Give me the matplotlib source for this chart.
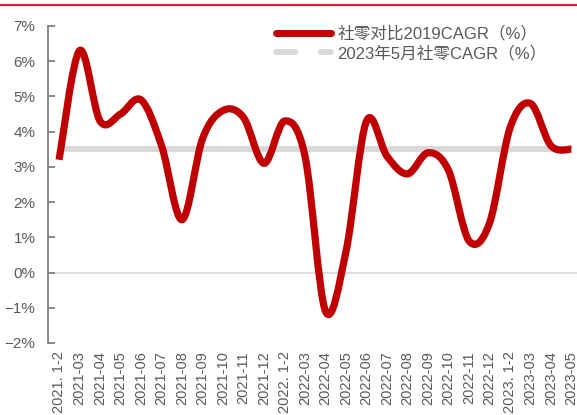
import matplotlib
matplotlib.use("Agg")
import matplotlib.pyplot as plt
from matplotlib.lines import Line2D
from matplotlib.path import Path
from matplotlib.patches import PathPatch
from matplotlib.ticker import FuncFormatter

plt.rcParams["font.family"] = ["Liberation Sans", "Noto Sans CJK SC", "DejaVu Sans"]

# data
months = [
    "2021. 1-2", "2021-03", "2021-04", "2021-05", "2021-06", "2021-07",
    "2021-08", "2021-09", "2021-10", "2021-11", "2021-12",
    "2022. 1-2", "2022-03", "2022-04", "2022-05", "2022-06", "2022-07",
    "2022-08", "2022-09", "2022-10", "2022-11", "2022-12",
    "2023. 1-2", "2023-03", "2023-04", "2023-05",
]
cagr_vs_2019 = [
    3.2, 6.3, 4.3, 4.5, 4.9, 3.6,
    1.5, 3.8, 4.6, 4.4, 3.1,
    4.3, 3.3, -1.1, 0.6, 4.3, 3.3,
    2.8, 3.4, 2.9, 0.9, 1.4,
    4.1, 4.8, 3.6, 3.5,
]
cagr_2023_may = 3.5

label_main = "社零对比2019CAGR（%）"
label_ref = "2023年5月社零CAGR（%）"

RED = "#c00000"
GRAY_LINE = "#d9d9d9"
TEXT = "#595959"
AXIS = "#808080"


def smooth_path(xs, ys):
    """Excel-like smoothed line as cubic Bezier segments (Catmull-Rom)."""
    pts = list(zip(xs, ys))
    n = len(pts)
    verts = [pts[0]]
    codes = [Path.MOVETO]
    for i in range(n - 1):
        p0 = pts[i - 1] if i > 0 else pts[i]
        p1 = pts[i]
        p2 = pts[i + 1]
        p3 = pts[i + 2] if i + 2 < n else pts[i + 1]
        c1 = (p1[0] + (p2[0] - p0[0]) / 6, p1[1] + (p2[1] - p0[1]) / 6)
        c2 = (p2[0] - (p3[0] - p1[0]) / 6, p2[1] - (p3[1] - p1[1]) / 6)
        verts += [c1, c2, p2]
        codes += [Path.CURVE4] * 3
    return Path(verts, codes)


fig = plt.figure(figsize=(5.77, 4.15), dpi=100)
ax = fig.add_axes([0.0832, 0.1735, 0.9168, 0.764])

x = list(range(len(months)))

ax.axhline(0, color=GRAY_LINE, lw=1.2, zorder=1)
ax.plot([x[0], x[-1]], [cagr_2023_may, cagr_2023_may], color=GRAY_LINE,
        lw=4.3, solid_capstyle="butt", zorder=2)
ax.add_patch(PathPatch(smooth_path(x, cagr_vs_2019), fill=False, edgecolor=RED,
                       lw=5.2, capstyle="butt", joinstyle="round", zorder=3))

ax.set_xlim(-0.54, 25.27)
ax.set_ylim(-2, 7)
ax.set_yticks(range(-2, 8))
ax.yaxis.set_major_formatter(FuncFormatter(lambda v, _: f"{int(v)}%".replace("-", "\u2212")))
ax.set_xticks(x)
ax.set_xticklabels(months, rotation=90, fontsize=10.5, color=TEXT, va="top", ha="center")

for side in ["top", "right", "bottom"]:
    ax.spines[side].set_visible(False)
ax.spines["left"].set_color(AXIS)
ax.spines["left"].set_linewidth(1.3)
ax.tick_params(axis="y", direction="in", length=5, width=1.3, color=AXIS,
               labelsize=11, labelcolor=TEXT, pad=9)
ax.tick_params(axis="x", length=0, pad=6)

handles = [
    Line2D([], [], color=RED, lw=5, solid_capstyle="round"),
    Line2D([], [], color=GRAY_LINE, lw=4.3, dash_capstyle="round", dashes=(3.2, 4.3)),
]
leg = ax.legend(handles, [label_main, label_ref], loc="upper left",
                bbox_to_anchor=(0.418, 1.022), frameon=False, fontsize=12,
                handlelength=3.3, handletextpad=0.4, labelspacing=0.22,
                borderaxespad=0)
for t in leg.get_texts():
    t.set_color(TEXT)

# red rule along the top of the figure
fig.add_artist(Line2D([0, 1], [0.988, 0.988], transform=fig.transFigure,
                      color="#e31e3c", lw=1.6))

fig.savefig("out.png", dpi=100)
